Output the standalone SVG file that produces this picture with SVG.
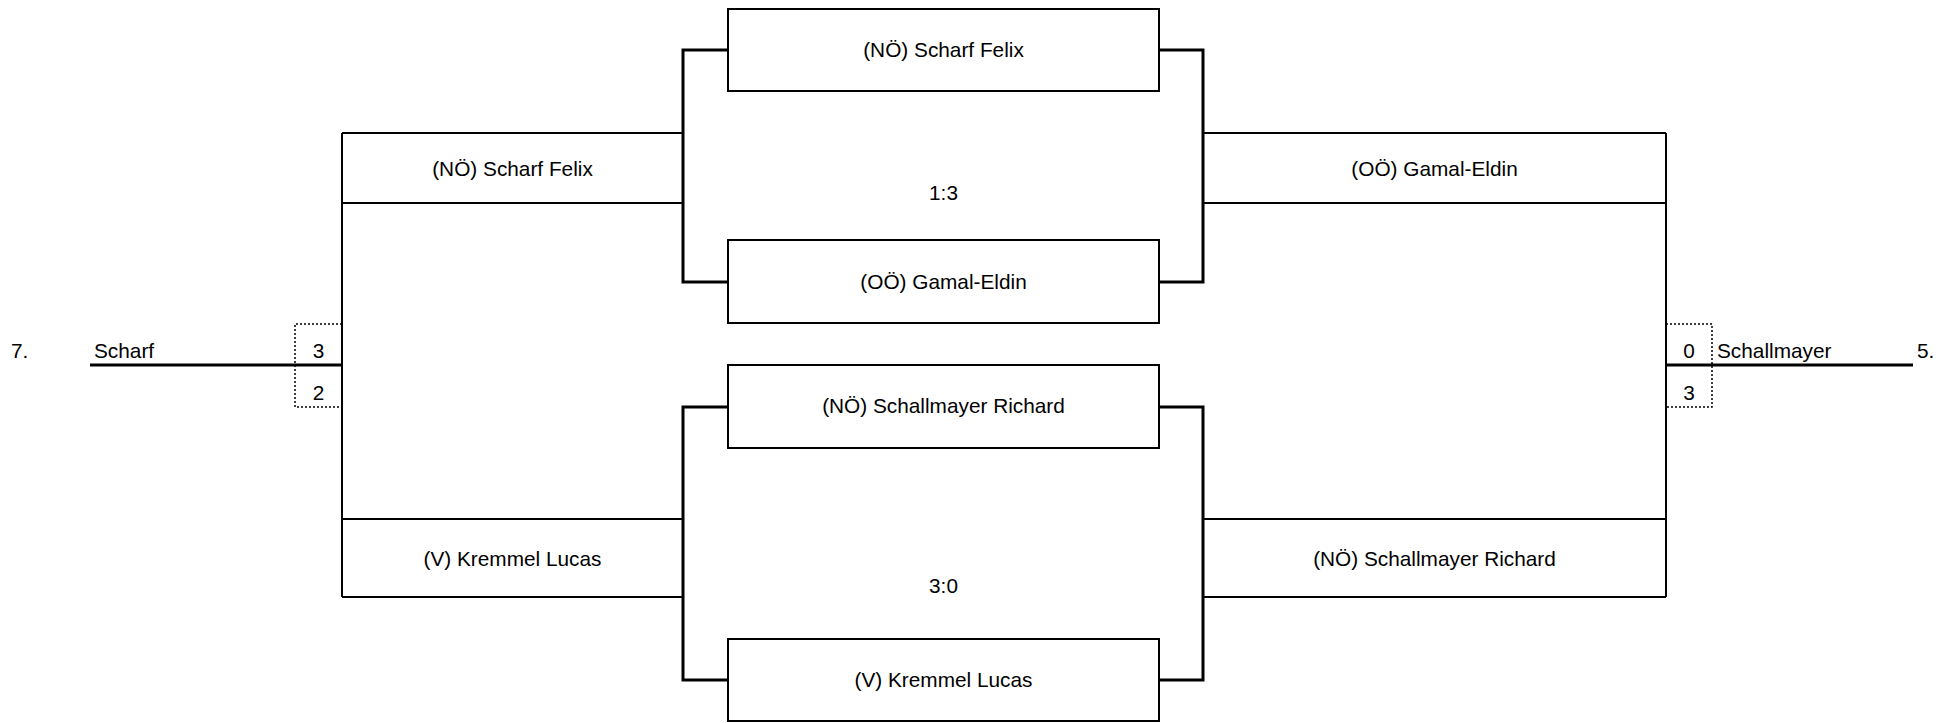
<svg xmlns="http://www.w3.org/2000/svg" width="1952" height="723" viewBox="0 0 1952 723">
<style>
text{font-family:"Liberation Sans",Arial,sans-serif;font-size:20.8px;fill:#000}
.c{text-anchor:middle}
.box{fill:#fff;stroke:#000;stroke-width:2}
.ln{stroke:#000;stroke-width:2;fill:none}
.br{stroke:#000;stroke-width:3;fill:none}
.dot{stroke:#000;stroke-width:1.5;fill:none;stroke-dasharray:2 2}
</style>
<rect width="1952" height="723" fill="#fff"/>
<g id="connectors">
<path class="br" d="M728 50H683V282H728"/>
<path class="br" d="M728 407H683V680H728"/>
<path class="br" d="M1159 50H1203V282H1159"/>
<path class="br" d="M1159 407H1203V680H1159"/>
<path class="ln" d="M342 133V597"/>
<path class="ln" d="M1666 133V597"/>
<path class="br" d="M90 365H342"/>
<path class="br" d="M1666 365H1913"/>
</g>
<g id="m1"><rect class="box" x="728" y="9" width="431" height="82"/><text class="c" x="943.5" y="57">(NÖ) Scharf Felix</text></g>
<g id="m2"><rect class="box" x="728" y="240" width="431" height="83"/><text class="c" x="943.5" y="289">(OÖ) Gamal-Eldin</text></g>
<g id="score1"><text class="c" x="943.5" y="200">1:3</text></g>
<g id="m3"><rect class="box" x="728" y="365" width="431" height="83"/><text class="c" x="943.5" y="413">(NÖ) Schallmayer Richard</text></g>
<g id="m4"><rect class="box" x="728" y="639" width="431" height="82"/><text class="c" x="943.5" y="687">(V) Kremmel Lucas</text></g>
<g id="score2"><text class="c" x="943.5" y="593">3:0</text></g>
<g id="l1"><path class="ln" d="M342 133H683M342 203H683"/><text class="c" x="512.5" y="176">(NÖ) Scharf Felix</text></g>
<g id="l2"><path class="ln" d="M342 519H683M342 597H683"/><text class="c" x="512.5" y="566">(V) Kremmel Lucas</text></g>
<g id="r1"><path class="ln" d="M1203 133H1666M1203 203H1666"/><text class="c" x="1434.5" y="176">(OÖ) Gamal-Eldin</text></g>
<g id="r2"><path class="ln" d="M1203 519H1666M1203 597H1666"/><text class="c" x="1434.5" y="566">(NÖ) Schallmayer Richard</text></g>
<g id="left-final">
<text x="11" y="358">7.</text>
<text x="94" y="358">Scharf</text>
<path class="dot" d="M342 324H295V407H342"/>
<text class="c" x="318.5" y="358">3</text>
<text class="c" x="318.5" y="400">2</text>
</g>
<g id="right-final">
<path class="dot" d="M1666 324H1712V407H1666"/>
<text class="c" x="1689" y="358">0</text>
<text class="c" x="1689" y="400">3</text>
<text x="1717" y="358">Schallmayer</text>
<text x="1917" y="358">5.</text>
</g>
</svg>
